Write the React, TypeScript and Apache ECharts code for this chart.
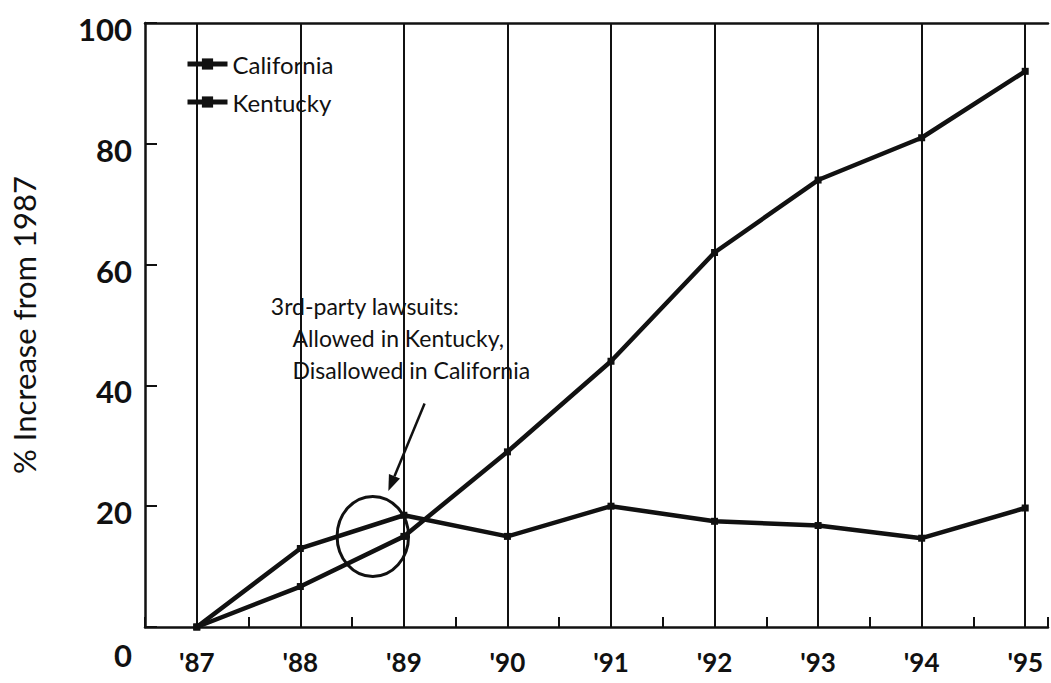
import React, { useEffect, useRef } from "react";
import * as echarts from "echarts";

const years = [87, 88, 89, 90, 91, 92, 93, 94, 95];
const california = [0, 13, 18.5, 15, 20, 17.5, 16.8, 14.7, 19.7];
const kentucky = [0, 6.7, 15, 29, 44, 62, 74, 81, 92];
const annotationLines = ["3rd-party lawsuits:", "Allowed in Kentucky,", "Disallowed in California"];

const INK = "#111";
const FONT = "Lato, 'Open Sans', sans-serif";
const X_MIN = 86.5;
const X_MAX = 95.22;

export default function App() {
  const ref = useRef<HTMLDivElement>(null);
  useEffect(() => {
    document.body.style.margin = "0";
    const chart = echarts.init(ref.current!, null, { renderer: "svg" });
    const pairs = (arr: number[]) => years.map((y, i) => [y, arr[i]]);
    const lineSeries = (name: string, arr: number[], extra: any = {}) => ({
      name,
      type: "line",
      xAxisIndex: 0,
      data: pairs(arr),
      symbol: "rect",
      symbolSize: 7,
      showSymbol: true,
      lineStyle: { color: INK, width: 4.5 },
      itemStyle: { color: INK },
      ...extra,
    });
    chart.setOption({
      animation: false,
      backgroundColor: "#fff",
      grid: {
        left: 143,
        top: 23,
        right: -6,
        bottom: 56,
        show: false,
        containLabel: false,
      },
      legend: {
        left: 180,
        top: 46,
        orient: "vertical",
        itemWidth: 40,
        itemHeight: 14,
        itemGap: 12,
        lineStyle: { width: 5, color: INK },
        itemStyle: { color: INK },
        textStyle: { fontFamily: FONT, fontSize: 24, color: INK, lineHeight: 26 },
        data: ["California", "Kentucky"],
      },
      xAxis: [
        {
          type: "value",
          min: X_MIN,
          max: X_MAX,
          interval: 0.5,
          axisLine: { show: true, lineStyle: { color: INK, width: 2.5 } },
          axisTick: { show: true, inside: true, length: 10, lineStyle: { color: INK, width: 2 } },
          splitLine: { show: false },
          axisLabel: {
            interval: 0,
            showMinLabel: true,
            showMaxLabel: true,
            hideOverlap: false,
            margin: 22,
            fontFamily: FONT,
            fontSize: 26,
            fontWeight: "bold",
            color: INK,
            formatter: (v: number) =>
              Math.abs(v - Math.round(v)) < 1e-6 && years.includes(Math.round(v)) ? "'" + Math.round(v) : "",
          },
        },
        {
          type: "value",
          position: "top",
          min: X_MIN,
          max: X_MAX,
          axisLine: { show: true, lineStyle: { color: INK, width: 2.5 } },
          axisTick: { show: false },
          axisLabel: { show: false },
          splitLine: { show: false },
        },
      ],
      yAxis: {
        type: "value",
        min: 0,
        max: 100,
        interval: 20,
        name: "% Increase from 1987",
        nameLocation: "middle",
        nameGap: 106,
        nameTextStyle: { fontFamily: FONT, fontSize: 31, color: INK },
        axisLine: { show: true, lineStyle: { color: INK, width: 2.5 } },
        axisTick: { show: true, inside: true, length: 12, lineStyle: { color: INK, width: 2 } },
        splitLine: { show: false },
        axisLabel: {
          margin: 13,
          fontFamily: FONT,
          fontSize: 31,
          fontWeight: "bold",
          color: INK,
          formatter: (v: number) => (v === 0 ? "{z|0}" : "{n|" + v + "}"),
          rich: {
            z: { fontFamily: FONT, fontSize: 31, fontWeight: "bold", color: INK, padding: [56, 0, 0, 0] },
            n: { fontFamily: FONT, fontSize: 31, fontWeight: "bold", color: INK, padding: [12, 0, 0, 0] },
          },
        },
      },
      series: [
        lineSeries("California", california, {
          markLine: {
            silent: true,
            symbol: "none",
            label: { show: false },
            lineStyle: { color: INK, width: 2, type: "solid" },
            data: years.map((y) => ({ xAxis: y })),
          },
        }),
        lineSeries("Kentucky", kentucky),
      ],
    });

    const p = (x: number, y: number) => chart.convertToPixel({ gridIndex: 0 }, [x, y]) as number[];
    const c = p(88.7, 15);
    const c2 = p(89.7, 15);
    const rx = (c2[0] - c[0]) * 0.345;
    const a0 = p(89.2, 37);
    const a1 = p(88.85, 22.5);
    const dx = a1[0] - a0[0];
    const dy = a1[1] - a0[1];
    const len = Math.sqrt(dx * dx + dy * dy);
    const ux = dx / len;
    const uy = dy / len;
    const bx = a1[0] - ux * 16;
    const by = a1[1] - uy * 16;
    const nx = -uy;
    const ny = ux;
    const textPos = [p(87.715, 53.2), p(87.925, 47.8), p(87.925, 42.5)];
    chart.setOption({
      graphic: [
        {
          type: "ellipse",
          shape: { cx: c[0], cy: c[1], rx, ry: rx * 1.12 },
          style: { fill: "none", stroke: INK, lineWidth: 3 },
          z: 10,
        },
        {
          type: "line",
          shape: { x1: a0[0], y1: a0[1], x2: bx, y2: by },
          style: { stroke: INK, lineWidth: 2.5 },
          z: 10,
        },
        {
          type: "polygon",
          shape: {
            points: [
              [a1[0], a1[1]],
              [bx + nx * 6, by + ny * 6],
              [bx - nx * 6, by - ny * 6],
            ],
          },
          style: { fill: INK },
          z: 10,
        },
        ...annotationLines.map((t, i) => ({
          type: "text",
          x: textPos[i][0],
          y: textPos[i][1],
          z: 10,
          style: {
            text: t,
            fontFamily: FONT,
            fontSize: 23,
            fill: INK,
            verticalAlign: "middle",
            align: "left",
          },
        })),
      ],
    });
    return () => chart.dispose();
  }, []);
  return (
    <div
      ref={ref}
      style={{ position: "fixed", left: 0, top: 0, width: 1051, height: 683, background: "#fff" }}
    />
  );
}
